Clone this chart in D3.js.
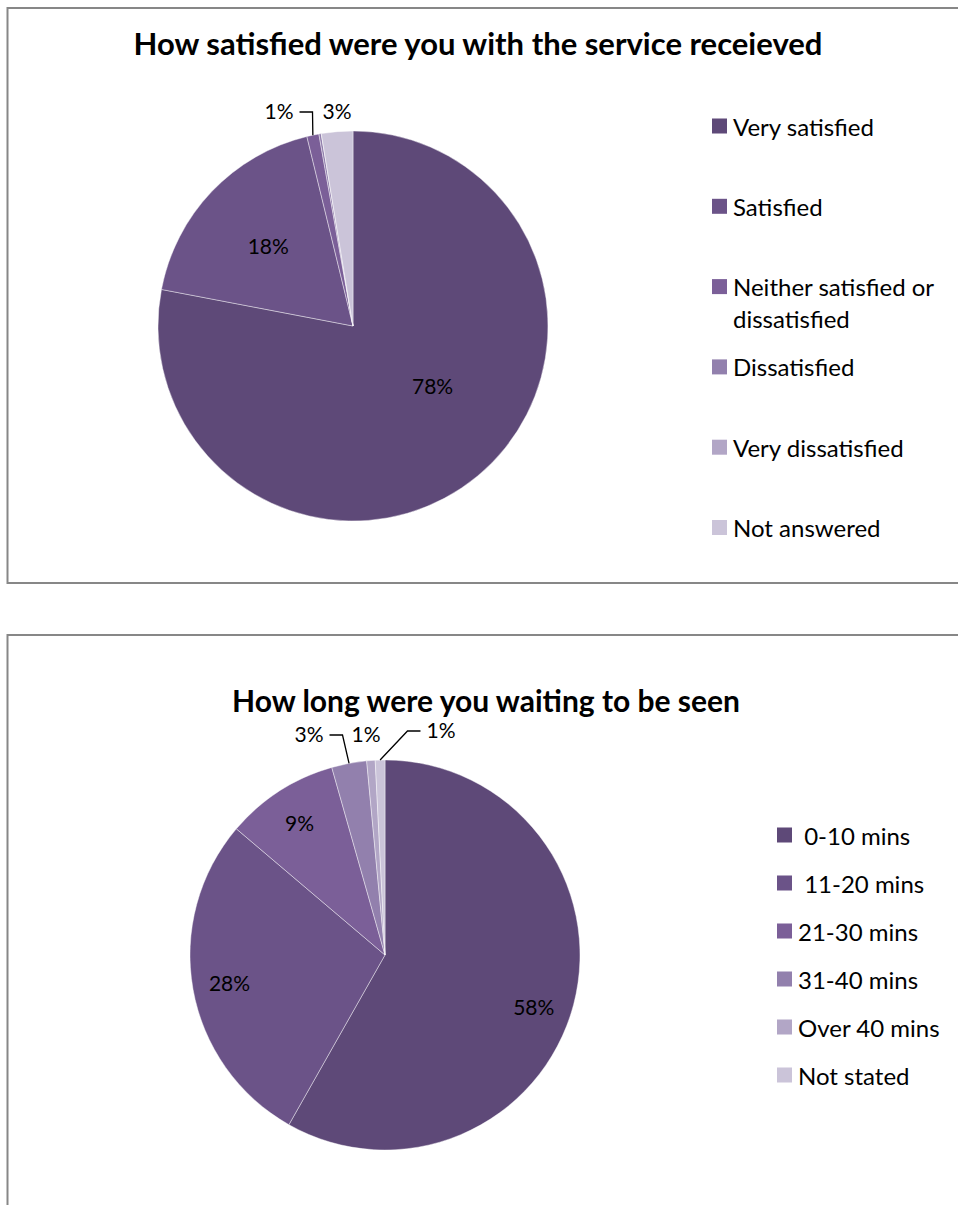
<!DOCTYPE html>
<html>
<head>
<meta charset="utf-8">
<script src="https://cdn.jsdelivr.net/npm/d3@7"></script>
<style>
  body { margin: 0; background: #fff; }
  text { font-family: Lato, "Open Sans", sans-serif; fill: #000; }
</style>
</head>
<body>
<svg id="page"></svg>
<script>
// data (percent of respondents)
var satCategories = ["Very satisfied", "Satisfied", "Neither satisfied or|dissatisfied", "Dissatisfied", "Very dissatisfied", "Not answered"];
var satValues = [78.0, 18.2, 1.0, 0.2, 0.0, 2.6];

var waitCategories = [" 0-10 mins", " 11-20 mins", "21-30 mins", "31-40 mins", "Over 40 mins", "Not stated"];
var waitValues = [58.2, 28.0, 9.4, 2.9, 0.7, 0.8];

var shades = ["#5e4978", "#6b5388", "#7b5f98", "#9280ad", "#b2a6c6", "#cbc4d9"];

var W = 958, H = 1205;
var svg = d3.select("#page").attr("width", W).attr("height", H);

// chart frames
svg.append("rect").attr("x", 7.5).attr("y", 8).attr("width", 1000).attr("height", 575)
   .attr("fill", "none").attr("stroke", "#878787").attr("stroke-width", 2);
svg.append("rect").attr("x", 7.5).attr("y", 635).attr("width", 1000).attr("height", 700)
   .attr("fill", "none").attr("stroke", "#878787").attr("stroke-width", 2);

function drawPie(cfg) {
   var g = svg.append("g");

   g.append("text")
      .attr("x", cfg.titleX).attr("y", cfg.titleY)
      .attr("text-anchor", "middle")
      .attr("dominant-baseline", "central")
      .style("font-size", cfg.titleSize + "px").style("font-weight", "bold")
      .text(cfg.title);

   var rows = cfg.categories.map((c, i) => ({ name: c, value: cfg.values[i], color: shades[i] }));

   var pie = d3.pie().sort(null).value(d => d.value);
   var arcs = pie(rows);
   var arc = d3.arc().innerRadius(0).outerRadius(cfg.r);
   var lab = d3.arc().innerRadius(cfg.r * cfg.k).outerRadius(cfg.r * cfg.k);
   var edge = d3.arc().innerRadius(cfg.r).outerRadius(cfg.r);

   var pg = g.append("g").attr("transform", `translate(${cfg.cx},${cfg.cy})`);
   pg.selectAll("path").data(arcs).enter().append("path")
      .attr("d", arc)
      .attr("fill", d => d.data.color)
      .attr("stroke", "rgba(255,255,255,0.6)")
      .attr("stroke-width", 0.7);

   // percentage labels
   arcs.forEach((d, i) => {
      if (d.data.value < 0.5) return;
      var txt = Math.round(d.data.value) + "%";
      var p = lab.centroid(d);
      var out = cfg.outside[i];
      if (out) p = out.at;
      if (cfg.nudge[i]) p = [p[0] + cfg.nudge[i][0], p[1] + cfg.nudge[i][1]];
      var t = pg.append("text")
         .attr("x", p[0]).attr("y", p[1])
         .attr("text-anchor", "middle")
         .attr("dominant-baseline", "central")
         .style("font-size", "21px")
         .text(txt);
      if (out && out.leader) {
         var half = t.node().getComputedTextLength() / 2;
         var e = edge.centroid(d);
         var side = e[0] > p[0] ? 1 : -1;
         var x0 = p[0] + side * (half + 6);
         var x1 = x0 + side * 13;
         pg.append("path")
            .attr("d", d3.line()([[x0, p[1] + 2], [x1, p[1] + 2], e]))
            .attr("fill", "none").attr("stroke", "#000").attr("stroke-width", 1.3);
      }
   });

   // legend
   var lg = g.append("g").attr("transform", `translate(${cfg.legendX},${cfg.legendY})`);
   var yPos = 0;
   rows.forEach((d, i) => {
      var lines = d.name.split("|");
      lg.append("rect")
         .attr("x", 0).attr("y", yPos - 7.5)
         .attr("width", 15).attr("height", 15)
         .attr("fill", d.color);
      lines.forEach((ln, j) => {
         lg.append("text")
            .attr("x", 21).attr("y", yPos + j * cfg.lineH)
            .attr("dominant-baseline", "central")
            .style("font-size", "24px")
            .style("white-space", "pre")
            .text(ln);
      });
      yPos += cfg.step;
   });
}

drawPie({
   title: "How satisfied were you with the service receieved",
   titleX: 478, titleY: 43, titleSize: 31,
   categories: satCategories, values: satValues,
   cx: 353, cy: 326, r: 195, k: 0.6,
   nudge: { 0: [5, -31] },
   outside: {
      2: { at: [-74, -216], leader: true },
      5: { at: [-16, -216], leader: false }
   },
   legendX: 712, legendY: 126, step: 80.3, lineH: 32
});

drawPie({
   title: "How long were you waiting to be seen",
   titleX: 486, titleY: 700, titleSize: 30,
   categories: waitCategories, values: waitValues,
   cx: 385, cy: 955, r: 195, k: 0.81,
   nudge: { 0: [-4, 11] },
   outside: {
      3: { at: [-76, -222], leader: true },
      4: { at: [-19, -222], leader: false },
      5: { at: [56, -226], leader: true }
   },
   legendX: 777, legendY: 835, step: 48, lineH: 32
});
</script>
</body>
</html>
